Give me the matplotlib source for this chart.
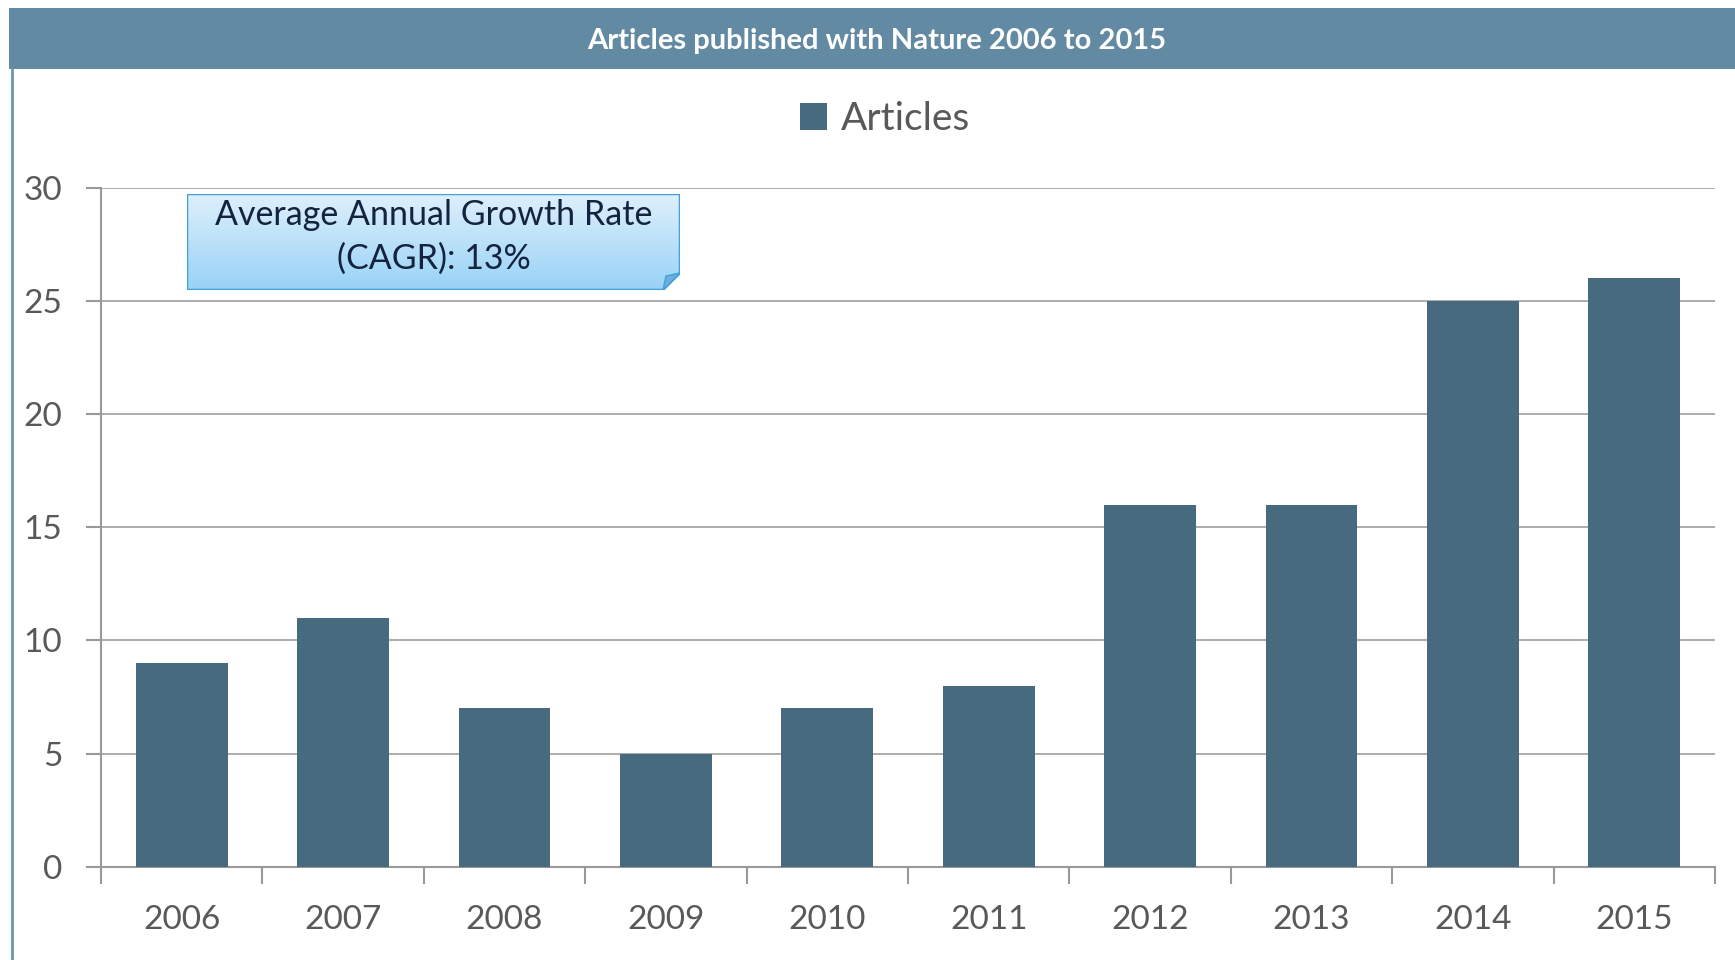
import numpy as np
import matplotlib.pyplot as plt
from matplotlib.patches import Rectangle, Polygon

plt.rcParams['font.family'] = ['Lato', 'DejaVu Sans']

years = ['2006', '2007', '2008', '2009', '2010', '2011', '2012', '2013', '2014', '2015']
articles = [9, 11, 7, 5, 7, 8, 16, 16, 25, 26]
title = 'Articles published with Nature 2006 to 2015'
note = 'Average Annual Growth Rate\n(CAGR): 13%'

W, H = 1735, 960
fig = plt.figure(figsize=(W / 100, H / 100), dpi=100)

# header bar and left frame line
fig.patches.append(Rectangle((9 / W, 1 - 69 / H), 1, 61 / H, transform=fig.transFigure,
                             facecolor='#628AA3', edgecolor='none', zorder=0))
fig.lines.append(plt.Line2D([11.5 / W, 11.5 / W], [0, 1 - 69 / H], transform=fig.transFigure,
                            color='#6F96AF', lw=2))
fig.text(877 / W, 1 - 41 / H, title, color='white', fontsize=21, fontweight='bold',
         ha='center', va='center')

ax = fig.add_axes([101 / W, 1 - 866.7 / H, 1614 / W, 679 / H])
x = np.arange(len(years))
ax.bar(x, articles, width=0.57, color='#476A7E', label='Articles', zorder=3)
ax.set_xlim(-0.5, len(years) - 0.5)
ax.set_ylim(0, 30)
ax.set_yticks(range(0, 31, 5))
ax.yaxis.grid(True, color='#A6A6A6', lw=1.3, zorder=0)
for s in ['top', 'right']:
    ax.spines[s].set_visible(False)
for s in ['left', 'bottom']:
    ax.spines[s].set_color('#999999')
    ax.spines[s].set_linewidth(1.5)
ax.set_xticks(x)
ax.set_xticklabels(years)
ax.set_xticks(np.arange(-0.5, len(years)), minor=True)
ax.tick_params(axis='x', which='major', length=0, pad=27.5, labelsize=24, labelcolor='#595959')
ax.tick_params(axis='x', which='minor', length=12, width=1.5, color='#999999')
ax.tick_params(axis='y', length=11, width=1.5, color='#999999', pad=17,
               labelsize=24, labelcolor='#595959')

fig.legend(loc='center', bbox_to_anchor=(885 / W, 1 - 119 / H), frameon=False,
           fontsize=28, labelcolor='#595959', handlelength=0.7, handleheight=0.7,
           handletextpad=0.35)

# annotation box with gradient and folded corner
bw, bh, f = 493, 96, 17
bx = fig.add_axes([187 / W, 1 - 290 / H, bw / W, bh / H])
bx.set_xlim(0, bw)
bx.set_ylim(0, bh)
bx.axis('off')
outline = [(0, 0), (bw - f, 0), (bw, f), (bw, bh), (0, bh)]
poly = Polygon(outline, closed=True, facecolor='none', edgecolor='#3FA2DC', lw=1.8, zorder=3)
bx.add_patch(poly)
grad = np.linspace(0, 1, 100).reshape(-1, 1)
top = np.array([0xDE, 0xF0, 0xFC]) / 255
bot = np.array([0x98, 0xD2, 0xF6]) / 255
img = top + (bot - top) * grad[..., None]
im = bx.imshow(img, extent=(0, bw, 0, bh), origin='upper', aspect='auto', zorder=1)
im.set_clip_path(Polygon(outline, closed=True, transform=bx.transData))
bx.add_patch(Polygon([(bw - f, 0), (bw, f), (bw - f + 3, f - 3)], closed=True,
                     facecolor='#6FAEDB', edgecolor='#3FA2DC', lw=1, zorder=4))
bx.text(bw / 2, bh / 2 + 5, note, ha='center', va='center', fontsize=24.5,
        color='#14233F', linespacing=1.47, zorder=5)

fig.savefig('out.png', dpi=100)
